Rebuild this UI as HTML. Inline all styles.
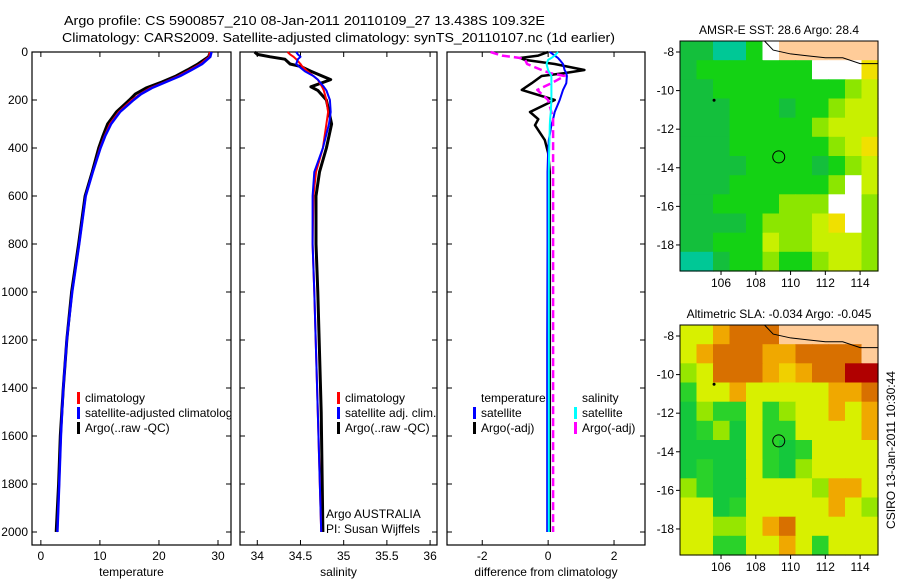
<!DOCTYPE html>
<html><head><meta charset="utf-8"><style>
html,body{margin:0;padding:0;background:#fff}
svg{display:block;font-family:"Liberation Sans",sans-serif}
</style></head><body>
<svg id="fig" width="900" height="580" viewBox="0 0 900 580" xmlns="http://www.w3.org/2000/svg">
<text x="64" y="25" font-size="13" textLength="481" lengthAdjust="spacingAndGlyphs">Argo profile: CS 5900857_210 08-Jan-2011 20110109_27 13.438S 109.32E</text>
<text x="62" y="42" font-size="13" textLength="553" lengthAdjust="spacingAndGlyphs">Climatology: CARS2009. Satellite-adjusted climatology: synTS_20110107.nc (1d earlier)</text>
<g id="plots"></g>
<g id="maps"></g>
<text transform="translate(895,450) rotate(-90)" font-size="12" text-anchor="middle">CSIRO 13-Jan-2011 10:30:44</text>
</svg>
<script>
// ---- data ----
const depthT = [0,20,50,75,100,125,150,175,200,250,300,350,400,500,600,800,1000,1200,1400,1600,1800,2000];
const tempClim = [28.6,28.5,27.0,25.2,23.3,21.0,18.5,16.8,15.4,13.2,11.7,10.8,10.0,8.8,7.6,6.5,5.3,4.4,3.8,3.4,3.1,2.8];
const tempSat  = [28.9,28.7,27.3,25.5,23.6,21.2,18.8,17.0,15.7,13.4,11.9,10.9,10.1,8.8,7.6,6.5,5.3,4.4,3.8,3.4,3.1,2.8];
const tempArgo = [28.7,28.4,26.6,24.8,22.9,20.5,17.8,16.0,15.0,12.8,11.3,10.5,9.8,8.7,7.5,6.4,5.2,4.4,3.8,3.3,3.0,2.6];
const depthS = [0,10,20,30,50,60,80,100,115,145,160,200,250,300,400,500,600,800,1000,1500,2000];
const salClim = [34.35,34.38,34.42,34.45,34.5,34.52,34.58,34.65,34.7,34.75,34.77,34.8,34.82,34.8,34.76,34.68,34.65,34.64,34.66,34.7,34.74];
const salSat  = [34.45,34.47,34.5,34.47,34.45,34.48,34.55,34.65,34.7,34.77,34.8,34.84,34.85,34.83,34.76,34.66,34.64,34.64,34.66,34.7,34.74];
const salArgo = [33.97,34.0,34.15,34.32,34.38,34.5,34.62,34.75,34.85,34.62,34.7,34.8,34.83,34.86,34.8,34.72,34.68,34.68,34.7,34.74,34.76];
const depthD = [0,15,25,33,50,75,88,100,130,158,200,250,280,305,367,420,500,800,1200,1600,2000];
const dTempSat  = [0.05,0.2,0.3,0.35,0.45,0.5,0.55,0.57,0.55,0.45,0.35,0.2,0.15,0.1,0.02,0,-0.02,-0.02,-0.03,-0.03,-0.03];
const dSalSat   = [0.3,0.2,0.1,0,-0.05,0.0,0.05,0.1,0.1,0.1,0.1,0.08,0.06,0.05,0.04,0.03,0.02,0.02,0.02,0.02,0.02];
const dTempArgo = [0,-0.3,-0.85,-0.7,0.2,1.1,0.5,-0.2,-0.5,-0.8,0.2,-0.55,-0.3,-0.4,-0.1,0,0.05,0.05,0.05,0.05,0.05];
const dSalArgo  = [-1.75,-1.4,-0.85,-0.7,-0.64,-0.2,0.06,0.5,0.1,-0.33,0,0.1,0.15,0.15,0.15,0.15,0.15,0.15,0.15,0.15,0.15];
const depthTicks = [0,200,400,600,800,1000,1200,1400,1600,1800,2000];
const tempTicks = [0,10,20,30];
const salTicks = [34,34.5,35,35.5,36];
const diffTicks = [-2,0,2];

const NS='http://www.w3.org/2000/svg';
function mk(tag, attrs, parent, txt){const e=document.createElementNS(NS,tag);for(const k in attrs)e.setAttribute(k,attrs[k]);if(txt!==undefined)e.textContent=txt;parent.appendChild(e);return e;}
const plots=document.getElementById('plots');
const Y0=52, Y1=545;
const yD=d=>Y0+d*(480/2000);

function panel(name,x0,x1,vmin,vmax,ticks,xlabel,showY){
  const g=mk('g',{},plots);
  
  
  const sx=v=>x0+(v-vmin)/(vmax-vmin)*(x1-x0);
  const fr=mk('rect',{x:x0,y:Y0,width:x1-x0,height:Y1-Y0,fill:'none',stroke:'#000','stroke-width':1.2},g);
  
  
  ticks.forEach(t=>{const x=sx(t);
    mk('line',{x1:x,x2:x,y1:Y1,y2:Y1-5,stroke:'#000'},g);
    mk('line',{x1:x,x2:x,y1:Y0,y2:Y0+5,stroke:'#000'},g);
    const tl=mk('text',{x:x,y:Y1+15,'font-size':12,'text-anchor':'middle'},g,String(t));
    
    
  });
  depthTicks.forEach(d=>{const y=yD(d);
    mk('line',{x1:x0,x2:x0+5,y1:y,y2:y,stroke:'#000'},g);
    mk('line',{x1:x1,x2:x1-5,y1:y,y2:y,stroke:'#000'},g);
    if(showY){const tl=mk('text',{x:x0-4,y:y+4,'font-size':12,'text-anchor':'end'},g,String(d));
      
      }
  });
  const xl=mk('text',{x:(x0+x1)/2,y:576,'font-size':12,'text-anchor':'middle'},g,xlabel);
  
  
  return {g,sx};
}
function series(p,name,depths,vals,color,w,dash){
  const pts=depths.map((d,i)=>p.sx(vals[i]).toFixed(1)+','+yD(d).toFixed(1)).join(' ');
  const l=mk('polyline',{points:pts,fill:'none',stroke:color,'stroke-width':w,'stroke-linejoin':'round'},p.g);
  if(dash)l.setAttribute('stroke-dasharray',dash);
  
  
}
function legend(g,x,y,color,label){
  mk('rect',{x:x,y:y-10,width:3,height:12,fill:color},g);
  const t=mk('text',{x:x+8,y:y,'font-size':12},g,label);
  
  
}

const p1=panel('temperature-panel',32,231,-1.5,32.2,tempTicks,'temperature',true);
series(p1,'temp-argo-line',depthT,tempArgo,'#000',3);
series(p1,'temp-climatology-line',depthT,tempClim,'#f00',2);
series(p1,'temp-satellite-line',depthT,tempSat,'#00f',2.5);
legend(p1.g,77,402,'#f00','climatology');
legend(p1.g,77,417,'#00f','satellite-adjusted climatology');
legend(p1.g,77,432,'#000','Argo(..raw -QC)');
mk('rect',{x:231.6,y:380,width:8,height:60,fill:'#fff'},plots);

const p2=panel('salinity-panel',240,437,33.8,36.08,salTicks,'salinity',false);
series(p2,'sal-argo-line',depthS,salArgo,'#000',3,null);
series(p2,'sal-climatology-line',depthS,salClim,'#f00',2);
series(p2,'sal-satellite-line',depthS,salSat,'#00f',2);
legend(p2.g,337,402,'#f00','climatology');
legend(p2.g,337,417,'#00f','satellite adj. clim.');
legend(p2.g,337,432,'#000','Argo(..raw -QC)');
const a1=mk('text',{x:326,y:518,'font-size':12},p2.g,'Argo AUSTRALIA');


const a2=mk('text',{x:326,y:533,'font-size':12},p2.g,'PI: Susan Wijffels');



const p3=panel('difference-panel',447,645,-3.07,2.94,diffTicks,'difference from climatology',false);
series(p3,'diff-temp-argo-line',depthD,dTempArgo,'#000',2.5);
series(p3,'diff-temp-satellite-line',depthD,dTempSat,'#00f',2);
series(p3,'diff-sal-argo-line',depthD,dSalArgo,'#f0f',2.5,'8,4');
series(p3,'diff-sal-satellite-line',depthD,dSalSat,'#0ff',2);
const lt=mk('text',{x:481,y:402,'font-size':12},p3.g,'temperature');


const ls=mk('text',{x:582,y:402,'font-size':12},p3.g,'salinity');


legend(p3.g,473,417,'#00f','satellite');
legend(p3.g,473,432,'#000','Argo(-adj)');
legend(p3.g,574,417,'#0ff','satellite');
legend(p3.g,574,432,'#f0f','Argo(-adj)');

// ---- maps ----
const lonTicks=[106,108,110,112,114];
const latTicks=[-8,-10,-12,-14,-16,-18];
const sstGrid=["ddttgwssssss","dgggggggwwwY","ddggggggggly","dddgggdgglyy","dddggggglyyy","dddgggggglyY","ddddggggdgly","dddgggggglwy","ddgggglllwwl","ddddglllyYwl","ddgggyllyyyl","ttdgglgglyyl"];
const slaGrid=["yyoOOOssssss","yoOOOooOOOOs","lyOOOoYoOOrr","gyyoyyyyyooO","Glggyglyyoyo","GglGyggyyyyo","GGGGygGgyyyy","GgGGygGlyyyy","lgGGyyyylooy","yyGgyyyyyoyl","yyllyoOyyyyy","yyggyyoygyyy"];
const sstColors={d:'#14bf3c',g:'#14d214',t:'#00c896',y:'#c8f000',l:'#8ce600',w:'#ffffff',s:'#ffcc99',Y:'#f0e000'};
const slaColors={y:'#d8f000',Y:'#f0d000',o:'#f0a800',O:'#d87000',r:'#b00000',l:'#96e600',g:'#2ad22a',G:'#14c83c',s:'#ffcc99'};
const floatPos=[109.32,-13.438];
const maps=document.getElementById('maps');
function map(name,top,title,grid,colors){
  const x0=680,x1=878,y0=top,y1=top+230;
  const lon0=103.64,lon1=115.03,lat0=-7.43,lat1=-19.35;
  const sx=v=>x0+(v-lon0)/(lon1-lon0)*(x1-x0);
  const sy=v=>y0+(v-lat0)/(lat1-lat0)*(y1-y0);
  const g=mk('g',{},maps);
  
  
  const nr=grid.length,nc=grid[0].length,cw=(x1-x0)/nc,ch=(y1-y0)/nr;
  grid.forEach((row,r)=>{for(let c=0;c<nc;c++){
    mk('rect',{x:(x0+c*cw).toFixed(1),y:(y0+r*ch).toFixed(1),width:(cw+0.6).toFixed(1),height:(ch+0.6).toFixed(1),fill:colors[row[c]]||'#d8f000'},g);}});
  const coast=mk('polyline',{points:`${sx(108.5)},${y0} ${sx(109)},${sy(-7.9)} ${sx(110)},${sy(-8.1)} ${sx(111)},${sy(-8.2)} ${sx(112)},${sy(-8.3)} ${sx(113)},${sy(-8.3)} ${sx(114)},${sy(-8.6)} ${x1},${sy(-8.6)}`,fill:'none',stroke:'#000','stroke-width':1},g);
  
  
  const fp=mk('circle',{cx:sx(floatPos[0]),cy:sy(floatPos[1]),r:6,fill:'none',stroke:'#000','stroke-width':1},g);
  
  
  mk('circle',{cx:sx(105.6),cy:sy(-10.5),r:1.5,fill:'#000'},g);
  mk('rect',{x:x0,y:y0,width:x1-x0,height:y1-y0,fill:'none',stroke:'#000','stroke-width':1},g);
  lonTicks.forEach(v=>{const x=sx(v);mk('line',{x1:x,x2:x,y1:y1,y2:y1+4,stroke:'#000'},g);
    const t=mk('text',{x:x,y:y1+16,'font-size':12,'text-anchor':'middle'},g,String(v));
    
    });
  latTicks.forEach(v=>{const y=sy(v);mk('line',{x1:x0-4,x2:x0,y1:y,y2:y,stroke:'#000'},g);
    const t=mk('text',{x:x0-6,y:y+4,'font-size':12,'text-anchor':'end'},g,String(v));
    
    });
  const tt=mk('text',{x:(x0+x1)/2,y:top-7,'font-size':12,'text-anchor':'middle'},g,title);
  
  
}
map('sst-map',41,'AMSR-E SST: 28.6 Argo: 28.4',sstGrid,sstColors);
map('sla-map',325,'Altimetric SLA: -0.034 Argo: -0.045',slaGrid,slaColors);
</script>
</body></html>
